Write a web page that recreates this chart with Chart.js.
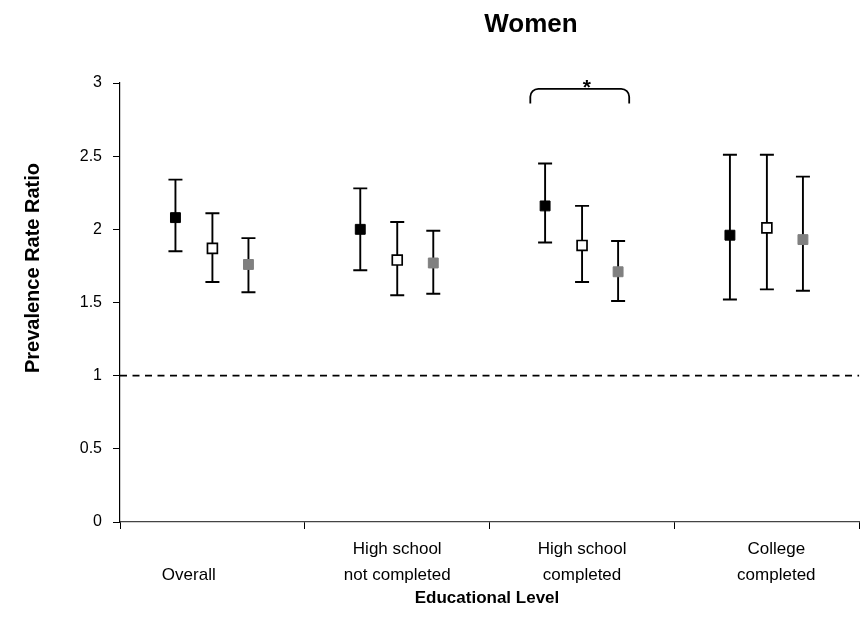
<!DOCTYPE html>
<html>
<head>
<meta charset="utf-8">
<script src="https://cdn.jsdelivr.net/npm/chart.js@4.4.1/dist/chart.umd.min.js"></script>
<style>
  html, body { margin: 0; padding: 0; background: #ffffff; }
  canvas { display: block; }
</style>
</head>
<body>
<canvas id="chart" width="868" height="641"></canvas>
<script>
// Educational level groups (padding spaces nudge a label sideways)
const categories = [
  'Overall          ',
  ['High school', 'not completed'],
  ['High school', 'completed'],
  ['    College', '    completed']
];

// Prevalence rate ratios with 95% confidence limits, three estimates per group
const ratioA   = [2.08, 2.00, 2.16, 1.96];
const ratioALo = [1.85, 1.72, 1.91, 1.52];
const ratioAHi = [2.34, 2.28, 2.45, 2.51];

const ratioB   = [1.87, 1.79, 1.89, 2.01];
const ratioBLo = [1.64, 1.55, 1.64, 1.59];
const ratioBHi = [2.11, 2.05, 2.16, 2.51];

const ratioC   = [1.76, 1.77, 1.71, 1.93];
const ratioCLo = [1.57, 1.56, 1.51, 1.58];
const ratioCHi = [1.94, 1.99, 1.92, 2.36];

// Value axis ticks
const yTicks = [0, 0.5, 1, 1.5, 2, 2.5, 3];
// Reference (null) ratio
const nullRatio = [1, 1];

// Significance bracket over the "High school completed" group
const sigBracket = { from: 1.72, to: 2.255, top: 2.96, foot: 2.86, text: '*' };

const titleText = 'Women';
const yTitleText = 'Prevalence Rate Ratio';
const xTitleText = 'Educational Level';

const FONT = "'Liberation Sans', Arial, Helvetica, sans-serif";
Chart.defaults.font.family = FONT;
Chart.defaults.color = '#000';

const groupOffset = [-0.2, 0, 0.195];

const series = [
  { est: ratioA, lo: ratioALo, hi: ratioAHi, fill: '#000000', stroke: '#000000', bw: 1 },
  { est: ratioB, lo: ratioBLo, hi: ratioBHi, fill: '#ffffff', stroke: '#000000', bw: 1.7 },
  { est: ratioC, lo: ratioCLo, hi: ratioCHi, fill: '#808080', stroke: '#808080', bw: 1 }
];

const datasets = series.map((s, si) => ({
  type: 'scatter',
  xAxisID: 'x',
  yAxisID: 'y',
  data: s.est.map((v, i) => ({ x: i + groupOffset[si], y: v })),
  pointStyle: 'rect',
  pointRadius: 7,
  pointBackgroundColor: s.fill,
  pointBorderColor: s.stroke,
  pointBorderWidth: s.bw,
  showLine: false,
  order: 1
}));

datasets.push({
  type: 'line',
  xAxisID: 'x',
  yAxisID: 'y',
  data: [{ x: -0.5, y: nullRatio[0] }, { x: 3.5, y: nullRatio[1] }],
  borderColor: '#000',
  borderWidth: 1.8,
  borderDash: [7, 5.5],
  pointRadius: 0,
  fill: false,
  order: 5
});

// Whiskers for the confidence intervals, drawn beneath the markers
const errorBars = {
  id: 'errorBars',
  beforeDatasetsDraw(chart) {
    const { ctx } = chart;
    const y = chart.scales.y;
    ctx.save();
    ctx.strokeStyle = '#000';
    ctx.lineWidth = 1.9;
    series.forEach((s, si) => {
      const meta = chart.getDatasetMeta(si);
      meta.data.forEach((pt, i) => {
        const yl = y.getPixelForValue(s.lo[i]);
        const yh = y.getPixelForValue(s.hi[i]);
        const cap = 7;
        ctx.beginPath();
        ctx.moveTo(pt.x, yl); ctx.lineTo(pt.x, yh);
        ctx.moveTo(pt.x - cap, yl); ctx.lineTo(pt.x + cap, yl);
        ctx.moveTo(pt.x - cap, yh); ctx.lineTo(pt.x + cap, yh);
        ctx.stroke();
      });
    });
    ctx.restore();
  }
};

// Bracket with significance star
const bracket = {
  id: 'bracket',
  afterDatasetsDraw(chart) {
    const { ctx } = chart;
    const x = chart.scales.x, y = chart.scales.y;
    const x1 = x.getPixelForValue(sigBracket.from);
    const x2 = x.getPixelForValue(sigBracket.to);
    const yt = y.getPixelForValue(sigBracket.top);
    const yb = y.getPixelForValue(sigBracket.foot);
    const r = 8;
    ctx.save();
    ctx.strokeStyle = '#000';
    ctx.lineWidth = 1.8;
    ctx.beginPath();
    ctx.moveTo(x1, yb);
    ctx.arcTo(x1, yt, x1 + r, yt, r);
    ctx.lineTo(x2 - r, yt);
    ctx.arcTo(x2, yt, x2, yb, r);
    ctx.lineTo(x2, yb);
    ctx.stroke();
    ctx.fillStyle = '#000';
    ctx.font = 'bold 21px ' + FONT;
    ctx.textAlign = 'center';
    ctx.textBaseline = 'alphabetic';
    ctx.fillText(sigBracket.text, (x1 + x2) / 2 + 7, yt + 5);
    ctx.restore();
  }
};

// Chart title and axis titles
const titles = {
  id: 'titles',
  afterDraw(chart) {
    const { ctx } = chart;
    ctx.save();
    ctx.fillStyle = '#000';
    ctx.textAlign = 'center';
    ctx.textBaseline = 'middle';
    ctx.font = 'bold 26px ' + FONT;
    ctx.fillText(titleText, 531, 25);
    ctx.font = 'bold 17px ' + FONT;
    ctx.fillText(xTitleText, 487, 598);
    ctx.font = 'bold 20px ' + FONT;
    ctx.translate(33, 268);
    ctx.rotate(-Math.PI / 2);
    ctx.fillText(yTitleText, 0, 0);
    ctx.restore();
  }
};

new Chart(document.getElementById('chart'), {
  data: { datasets },
  plugins: [errorBars, bracket, titles],
  options: {
    responsive: false,
    animation: false,
    devicePixelRatio: 1,
    layout: { padding: { top: 83, right: 5, bottom: 0, left: 0 } },
    plugins: {
      legend: { display: false },
      tooltip: { enabled: false },
      title: { display: false }
    },
    scales: {
      x: { type: 'linear', display: false, min: -0.5, max: 3.5 },
      cat: {
        type: 'category',
        labels: categories,
        position: 'bottom',
        offset: true,
        grid: { offset: true, drawOnChartArea: false, tickLength: 7, color: '#000', lineWidth: 1 },
        border: { color: '#444', width: 1.2 },
        ticks: {
          font: { size: 17, lineHeight: 1.53 },
          color: '#000',
          padding: 20,
          crossAlign: 'far',
          autoSkip: false,
          maxRotation: 0
        },
        afterFit(scale) { scale.height = 119; }
      },
      y: {
        type: 'linear',
        min: 0,
        max: 3,
        afterBuildTicks(scale) { scale.ticks = yTicks.map(v => ({ value: v })); },
        ticks: {
          font: { size: 16 },
          color: '#000',
          padding: 11,
          callback: v => String(v)
        },
        grid: { drawOnChartArea: false, tickLength: 7, color: '#000' },
        border: { color: '#000', width: 1.2 },
        afterFit(scale) { scale.width = 120; }
      }
    }
  }
});
</script>
</body>
</html>
